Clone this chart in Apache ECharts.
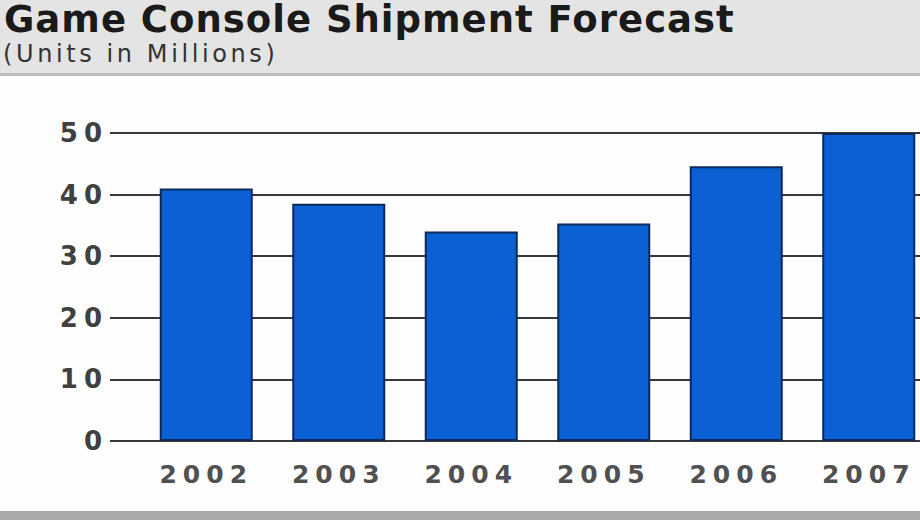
<!DOCTYPE html>
<html lang="en">
<head>
    <meta charset="UTF-8">
    <title>Game Console Shipment Forecast</title>
</head>
<style>
    body{
        margin: 0;
        padding: 0;
        background-color: #fdfdfd;
    }
    .main{
        width: 920px;
        height: 520px;
    }
    /* the original lettering is wide and loosely spaced */
    .main svg text[style*="37px"]{ letter-spacing: 1px; }
    .main svg text[style*="24px"]{ letter-spacing: 3.6px; }
    .main svg text[style*="26px"]{ letter-spacing: 6px; }
    .main svg text[style*="25px"]{ letter-spacing: 6px; }
</style>
<body>
    <div class="main"></div>
</body>
<script src="https://cdn.jsdelivr.net/npm/echarts@6/dist/echarts.min.js"></script>
<script>
  // data
  var years = ['2002', '2003', '2004', '2005', '2006', '2007'];
  var shipments = [41, 38.5, 34, 35.3, 44.6, 50];
  var yTicks = [0, 10, 20, 30, 40, 50];

  var myChart = echarts.init(document.querySelector('.main'), null, { renderer: 'svg' });
  var lineColor = '#383838';

  var option = {
      animation: false,
      backgroundColor: '#fdfdfd',
      graphic: [
          // grey header band and bottom strip
          { type: 'rect', shape: { x: 0, y: 0, width: 920, height: 74 }, style: { fill: '#e4e4e4' }, z: 0 },
          { type: 'rect', shape: { x: 0, y: 73, width: 920, height: 3 }, style: { fill: '#bdbdbd' }, z: 0 },
          { type: 'rect', shape: { x: 0, y: 511, width: 920, height: 9 }, style: { fill: '#a9a9a9' }, z: 0 },
          { type: 'text', left: 4, top: 1, z: 5,
            style: { text: 'Game Console Shipment Forecast', fill: '#1a1a1a',
                     font: 'bold 37px "DejaVu Sans"' } },
          { type: 'text', left: 3, top: 42, z: 5,
            style: { text: '(Units in Millions)', fill: '#333',
                     font: '24px "DejaVu Sans"' } }
      ],
      grid: { left: 140, top: 133, bottom: 79, width: 795, outerBoundsMode: 'none' },
      xAxis: {
          type: 'category',
          data: years,
          axisLine: { show: true, lineStyle: { color: lineColor, width: 2 } },
          axisTick: { show: false },
          axisLabel: { margin: 21, color: '#505050', fontSize: 25, fontWeight: 'bold', fontFamily: 'DejaVu Sans' }
      },
      yAxis: {
          type: 'value',
          min: yTicks[0],
          max: yTicks[yTicks.length - 1],
          interval: 10,
          axisLine: { show: false },
          axisTick: { show: true, length: 30, lineStyle: { color: lineColor, width: 2 } },
          splitLine: { show: true, lineStyle: { color: lineColor, width: 2 } },
          axisLabel: { margin: 32, color: '#404040', fontSize: 26, fontWeight: 'bold', fontFamily: 'DejaVu Sans' }
      },
      series: [{
          type: 'bar',
          data: shipments,
          barWidth: 93,
          itemStyle: { color: '#0b60d4', borderColor: '#0b2a5c', borderWidth: 2 },
          z: 3
      }]
  };
  myChart.setOption(option);
</script>
</html>
